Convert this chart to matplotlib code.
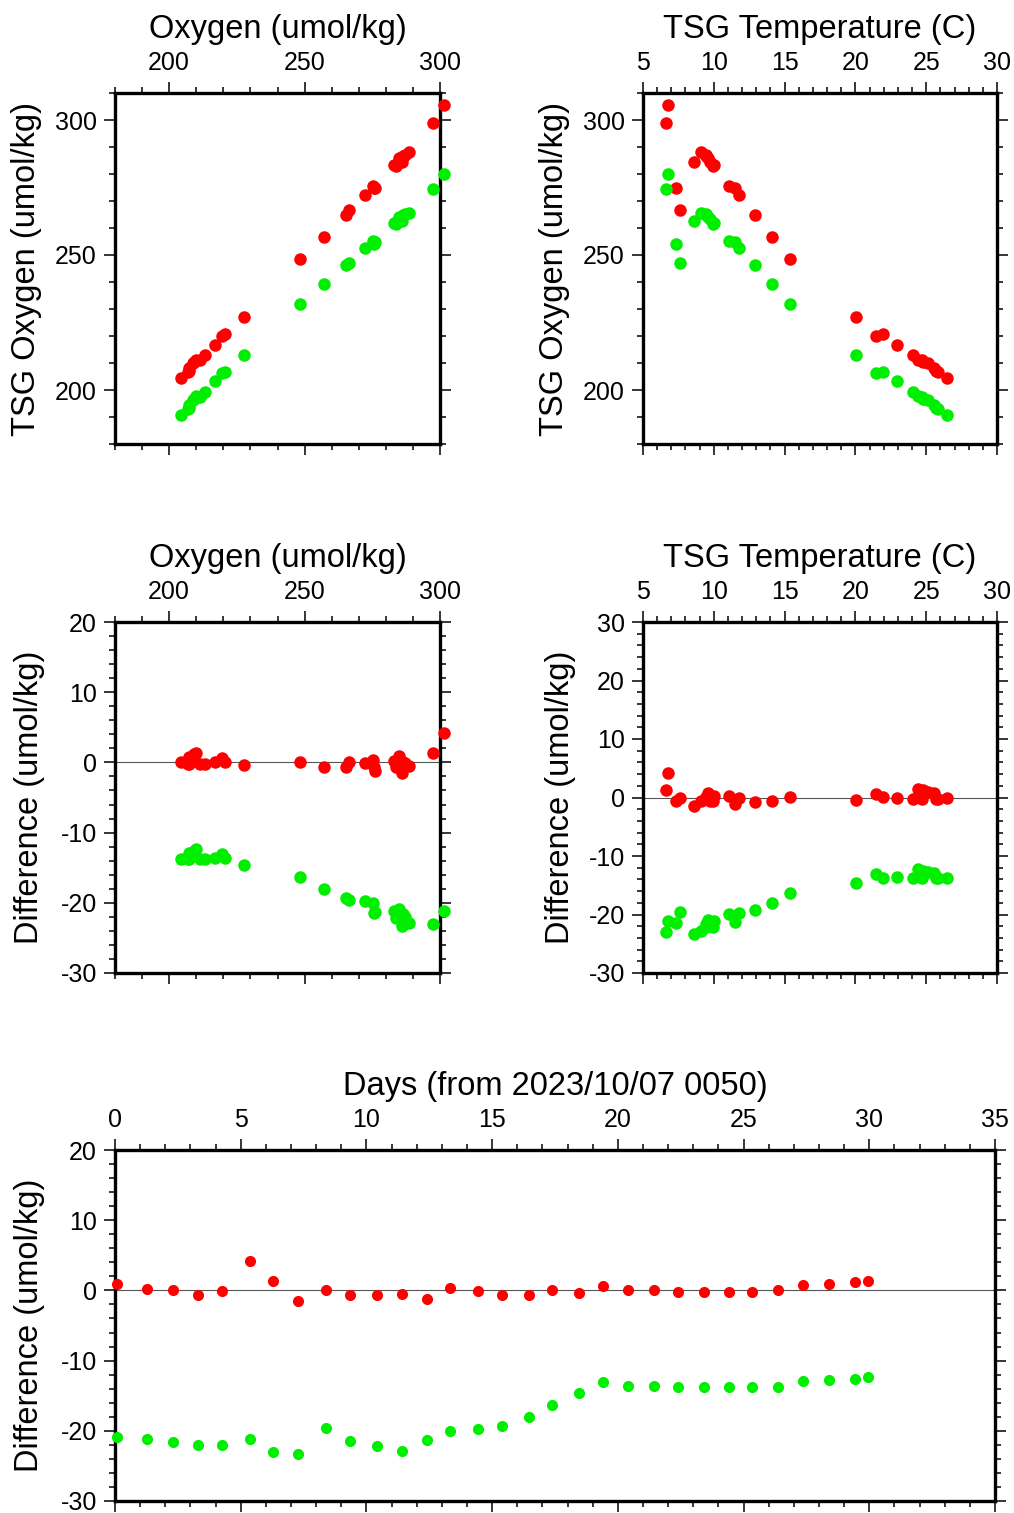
import matplotlib
matplotlib.use("Agg")
import matplotlib.pyplot as plt
from matplotlib.ticker import MultipleLocator

plt.rcParams['font.family'] = ['Liberation Sans', 'DejaVu Sans']
plt.rcParams['axes.unicode_minus'] = False

# one entry per sample, in time order
days = [0.07, 1.27, 2.29, 3.29, 4.24, 5.37, 6.27, 7.29, 8.39, 9.35, 10.41,
        11.42, 12.42, 13.34, 14.44, 15.39, 16.45, 17.38, 18.47, 19.42, 20.42,
        21.44, 22.41, 23.44, 24.44, 25.35, 26.36, 27.38, 28.39, 29.42, 29.94]
oxygen = [285.0, 283.1, 286.5, 285.2, 287.1, 301.3, 297.4, 285.8, 266.5, 275.6,
          283.6, 288.5, 276.1, 275.2, 272.4, 265.4, 257.3, 248.3, 227.6, 219.4,
          220.5, 216.8, 213.2, 211.3, 207.2, 206.8, 204.3, 207.3, 208.9, 209.3, 209.9]
temp = [9.62, 10.03, 9.45, 9.72, 9.48, 6.76, 6.64, 8.58, 7.59, 7.35, 9.95,
        9.13, 11.49, 11.09, 11.80, 12.91, 14.09, 15.39, 20.05, 21.44, 21.96,
        22.91, 24.09, 24.68, 25.67, 25.85, 26.50, 25.56, 25.13, 24.80, 24.42]
diff_red = [0.85, 0.19, 0.05, -0.62, -0.05, 4.13, 1.33, -1.52, 0.0, -0.66, -0.62,
            -0.52, -1.19, 0.28, -0.05, -0.71, -0.62, 0.12, -0.38, 0.62, 0.10,
            0.0, -0.19, -0.19, -0.24, -0.19, 0.0, 0.76, 0.95, 1.23, 1.38]
diff_green = [-20.94, -21.13, -21.65, -21.98, -22.08, -21.18, -23.03, -23.31,
              -19.56, -21.51, -22.13, -22.84, -21.27, -19.99, -19.80, -19.28,
              -18.04, -16.27, -14.58, -13.01, -13.68, -13.63, -13.82, -13.77,
              -13.77, -13.77, -13.72, -12.92, -12.77, -12.58, -12.30]

# TSG oxygen = reference oxygen + difference
tsg_red = [o + d for o, d in zip(oxygen, diff_red)]
tsg_green = [o + d for o, d in zip(oxygen, diff_green)]

RED = '#ff0000'
GREEN = '#00ee00'
LABEL_FS = 23.5
TICK_FS = 18

W, H = 1014, 1513
fig = plt.figure(figsize=(W / 100, H / 100), dpi=100)


def make_axes(left, right, top, bottom):
    return fig.add_axes([left / W, 1 - bottom / H, (right - left) / W, (bottom - top) / H])


def style(ax, xlim, ylim, xmaj, xmin, ymaj, ymin, xlabel, ylabel, xlab_x, ylab_x):
    ax.set_xlim(*xlim)
    ax.set_ylim(*ylim)
    ax.xaxis.set_major_locator(MultipleLocator(xmaj))
    ax.xaxis.set_minor_locator(MultipleLocator(xmin))
    ax.yaxis.set_major_locator(MultipleLocator(ymaj))
    ax.yaxis.set_minor_locator(MultipleLocator(ymin))
    for s in ax.spines.values():
        s.set_linewidth(2.4)
    ax.tick_params(which='both', direction='out', top=True, right=True,
                   bottom=True, left=True, labeltop=True, labelbottom=False,
                   labelleft=True, labelright=False, width=1.1)
    ax.tick_params(which='major', length=8, pad=5, labelsize=TICK_FS)
    ax.tick_params(which='minor', length=4)
    ax.xaxis.set_label_position('top')
    ax.set_xlabel(xlabel, fontsize=LABEL_FS, va='center')
    ax.xaxis.set_label_coords(0.5, xlab_x)
    ax.set_ylabel(ylabel, fontsize=LABEL_FS, va='center')
    ax.yaxis.set_label_coords(ylab_x, 0.5)


def dots(ax, x, y, color, ms=9.0):
    ax.plot(x, y, 'o', color=color, ms=ms, mec='none', clip_on=False, zorder=3)


# top left: TSG oxygen vs oxygen
ax1 = make_axes(115, 440, 93, 444)
dots(ax1, oxygen, tsg_red, RED)
dots(ax1, oxygen, tsg_green, GREEN)
style(ax1, (180, 300), (180, 310), 50, 10, 50, 10,
      'Oxygen (umol/kg)', 'TSG Oxygen (umol/kg)', 1.182, -0.271)

# top right: TSG oxygen vs temperature
ax2 = make_axes(643, 997, 93, 444)
dots(ax2, temp, tsg_red, RED)
dots(ax2, temp, tsg_green, GREEN)
style(ax2, (5, 30), (180, 310), 5, 1, 50, 10,
      'TSG Temperature (C)', 'TSG Oxygen (umol/kg)', 1.182, -0.249)

# middle left: difference vs oxygen
ax3 = make_axes(115, 440, 622, 973)
ax3.axhline(0, color='#555555', lw=0.8, zorder=1)
dots(ax3, oxygen, diff_red, RED)
dots(ax3, oxygen, diff_green, GREEN)
style(ax3, (180, 300), (-30, 20), 50, 10, 10, 2,
      'Oxygen (umol/kg)', 'Difference (umol/kg)', 1.182, -0.262)

# middle right: difference vs temperature
ax4 = make_axes(643, 997, 622, 973)
ax4.axhline(0, color='#555555', lw=0.8, zorder=1)
dots(ax4, temp, diff_red, RED)
dots(ax4, temp, diff_green, GREEN)
style(ax4, (5, 30), (-30, 30), 5, 1, 10, 2,
      'TSG Temperature (C)', 'Difference (umol/kg)', 1.182, -0.234)

# bottom: difference vs time
ax5 = make_axes(115, 995, 1150, 1501)
ax5.axhline(0, color='#555555', lw=0.8, zorder=1)
dots(ax5, days, diff_red, RED, 8.0)
dots(ax5, days, diff_green, GREEN, 8.0)
style(ax5, (0, 35), (-30, 20), 5, 1, 10, 2,
      'Days (from 2023/10/07 0050)', 'Difference (umol/kg)', 1.18, -0.0966)

fig.savefig('out.png', dpi=100)
